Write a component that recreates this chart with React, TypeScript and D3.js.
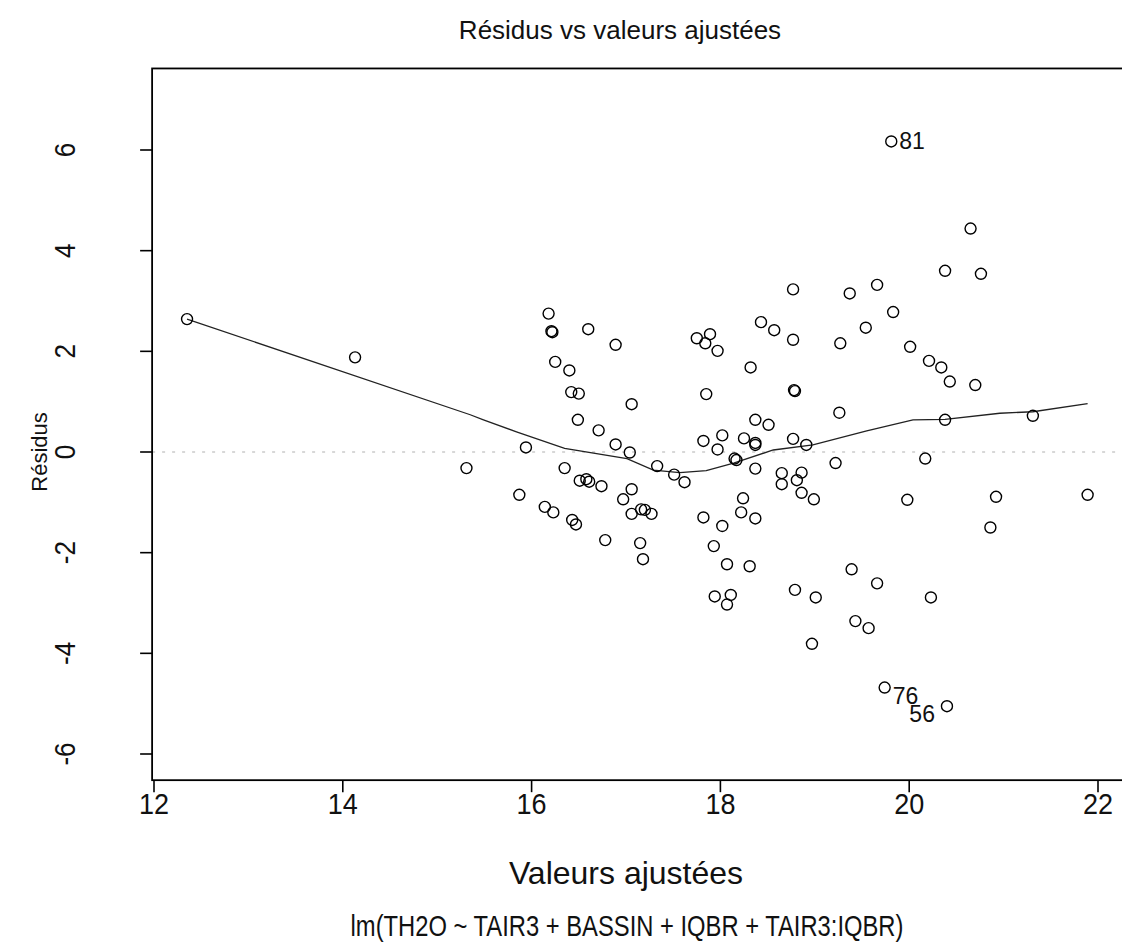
import React from "react";
import * as d3 from "d3";

const fittedValues: number[] = [
  12.35, 14.13, 15.31, 15.87, 15.94, 16.14, 16.18, 16.21, 16.22, 16.23,
  16.25, 16.35, 16.40, 16.42, 16.43, 16.47, 16.49, 16.50, 16.51, 16.58,
  16.61, 16.60, 16.71, 16.74, 16.78, 16.89, 16.89, 16.97, 17.04, 17.06,
  17.06, 17.06, 17.15, 17.16, 17.20, 17.18, 17.27, 17.33, 17.51, 17.62,
  17.75, 17.82, 17.82, 17.84, 17.85, 17.89, 17.93, 17.94, 17.97, 17.97,
  18.02, 18.02, 18.07, 18.07, 18.11, 18.15, 18.17, 18.22, 18.24, 18.25,
  18.31, 18.32, 18.37, 18.37, 18.37, 18.37, 18.37, 18.43, 18.51, 18.57,
  18.65, 18.65, 18.77, 18.77, 18.77, 18.78, 18.79, 18.79, 18.81, 18.86,
  18.86, 18.91, 18.97, 18.99, 19.01, 19.22, 19.26, 19.27, 19.37, 19.39,
  19.43, 19.54, 19.57, 19.66, 19.66, 19.74, 19.81, 19.83, 19.98, 20.01,
  20.17, 20.21, 20.23, 20.34, 20.38, 20.38, 20.40, 20.43, 20.65, 20.70,
  20.76, 20.86, 20.92, 21.31, 21.89,
];

const residuals: number[] = [
  2.64, 1.88, -0.32, -0.85, 0.09, -1.09, 2.75, 2.40, 2.38, -1.20,
  1.79, -0.32, 1.62, 1.19, -1.35, -1.44, 0.64, 1.16, -0.57, -0.54,
  -0.59, 2.44, 0.43, -0.68, -1.75, 2.13, 0.15, -0.94, -0.01, 0.95,
  -0.74, -1.23, -1.81, -1.14, -1.15, -2.13, -1.23, -0.28, -0.45, -0.60,
  2.26, 0.22, -1.30, 2.16, 1.15, 2.34, -1.87, -2.87, 2.01, 0.05,
  0.33, -1.47, -2.23, -3.03, -2.84, -0.13, -0.16, -1.20, -0.92, 0.27,
  -2.27, 1.68, 0.18, 0.14, 0.64, -0.33, -1.32, 2.58, 0.54, 2.42,
  -0.42, -0.64, 3.23, 2.23, 0.26, 1.23, 1.21, -2.74, -0.56, -0.41,
  -0.81, 0.14, -3.81, -0.94, -2.89, -0.22, 0.78, 2.16, 3.15, -2.33,
  -3.36, 2.47, -3.50, 3.32, -2.61, -4.68, 6.17, 2.78, -0.95, 2.09,
  -0.13, 1.81, -2.89, 1.68, 3.60, 0.64, -5.05, 1.40, 4.44, 1.33,
  3.54, -1.50, -0.89, 0.72, -0.85,
];

const smoothX: number[] = [
  12.35, 15.35, 15.49, 15.84, 16.35, 17.01, 17.29, 17.57, 17.85, 18.14,
  18.56, 18.98, 19.55, 20.04, 20.38, 20.96, 21.31, 21.89,
];
const smoothY: number[] = [
  2.64, 0.74, 0.64, 0.40, 0.07, -0.13, -0.36, -0.41, -0.37, -0.22,
  0.04, 0.14, 0.42, 0.64, 0.65, 0.77, 0.80, 0.96,
];

const labelIds: string[] = ["81", "76", "56"];
const labelX: number[] = [19.81, 19.74, 20.40];
const labelY: number[] = [6.17, -4.68, -5.05];
const labelSide: string[] = ["right", "right", "left"];

const xTicks: number[] = [12, 14, 16, 18, 20, 22];
const yTicks: number[] = [-6, -4, -2, 0, 2, 4, 6];

const xLim: [number, number] = [11.98, 22.27];
const yLim: [number, number] = [-6.52, 7.62];

const FONT = "'Liberation Sans', Arial, sans-serif";

export default function App() {
  const x = d3.scaleLinear().domain([12, 22]).range([154, 1098]);
  const y = d3.scaleLinear().domain([0, 6]).range([452, 150]);

  const left = x(xLim[0]);
  const right = x(xLim[1]);
  const top = y(yLim[1]);
  const bottom = y(yLim[0]);

  const lineGen = d3
    .line<number>()
    .x((_, i) => x(smoothX[i]))
    .y((d) => y(d));

  return (
    <svg
      width={1122}
      height={945}
      style={{ position: "absolute", left: 0, top: 0, background: "#fff" }}
      fontFamily={FONT}
    >
      <rect x={0} y={0} width={1122} height={945} fill="#fff" />
      <text x={620} y={39} textAnchor="middle" fontSize={26} fill="#111">
        Résidus vs valeurs ajustées
      </text>

      {/* zero reference line */}
      <line
        x1={left}
        x2={right}
        y1={y(0)}
        y2={y(0)}
        stroke="#b0b0b0"
        strokeWidth={1}
        strokeDasharray="3,7"
      />

      {/* smoother */}
      <path d={lineGen(smoothY) || ""} fill="none" stroke="#222" strokeWidth={1.3} />

      {/* points */}
      {fittedValues.map((fv, i) => (
        <circle
          key={i}
          cx={x(fv)}
          cy={y(residuals[i])}
          r={5.5}
          fill="none"
          stroke="#000"
          strokeWidth={1.4}
        />
      ))}

      {labelIds.map((id, i) => (
        <text
          key={id}
          x={labelSide[i] === "right" ? x(labelX[i]) + 8 : x(labelX[i]) - 12}
          y={y(labelY[i]) + (id === "81" ? 8 : 16)}
          textAnchor={labelSide[i] === "right" ? "start" : "end"}
          fontSize={23}
          fill="#111"
        >
          {id}
        </text>
      ))}

      {/* box */}
      <rect
        x={left}
        y={top}
        width={right - left}
        height={bottom - top}
        fill="none"
        stroke="#000"
        strokeWidth={1.8}
      />

      {/* x axis */}
      {xTicks.map((t) => (
        <g key={"x" + t}>
          <line x1={x(t)} x2={x(t)} y1={bottom} y2={bottom + 12} stroke="#000" strokeWidth={1.6} />
          <text
            transform={`translate(${x(t)},${bottom + 34}) scale(0.9,1)`}
            textAnchor="middle"
            fontSize={30}
            fill="#111"
          >
            {t}
          </text>
        </g>
      ))}

      {/* y axis */}
      {yTicks.map((t) => (
        <g key={"y" + t}>
          <line x1={left - 12} x2={left} y1={y(t)} y2={y(t)} stroke="#000" strokeWidth={1.6} />
          <text
            transform={`translate(${left - 77},${y(t)}) rotate(-90) scale(0.9,1)`}
            textAnchor="middle"
            fontSize={29}
            fill="#111"
          >
            {t}
          </text>
        </g>
      ))}

      <text x={626} y={884} textAnchor="middle" fontSize={32} fill="#111">
        Valeurs ajustées
      </text>
      <text
        transform={`translate(47,${y(0)}) rotate(-90)`}
        textAnchor="middle"
        fontSize={22}
        fill="#111"
      >
        Résidus
      </text>
      <text
        transform={`translate(627,936) scale(0.82,1)`}
        textAnchor="middle"
        fontSize={29}
        fill="#111"
      >
        lm(TH2O ~ TAIR3 + BASSIN + IQBR + TAIR3:IQBR)
      </text>
    </svg>
  );
}
